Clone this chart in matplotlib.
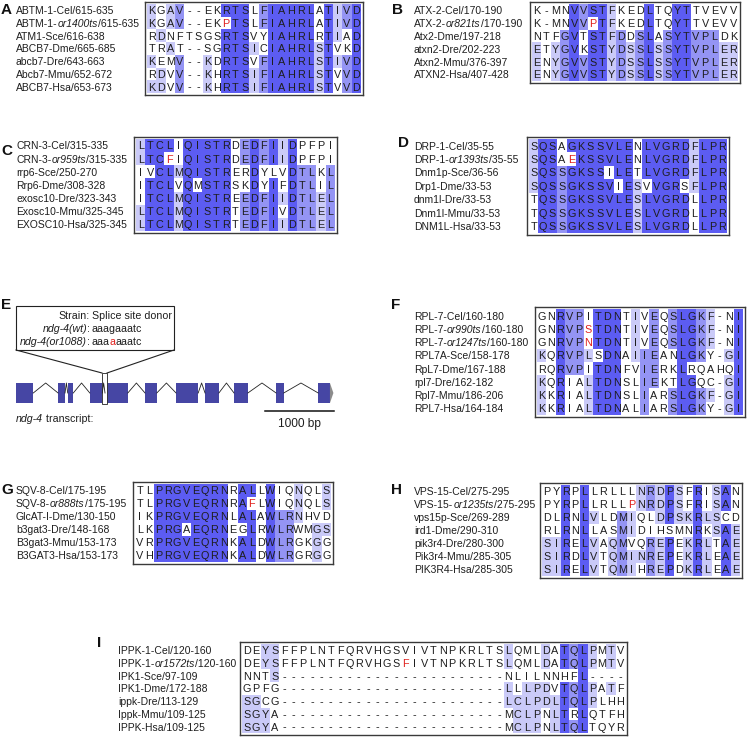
import numpy as np
import matplotlib.pyplot as plt
from matplotlib import transforms
from matplotlib.colors import to_rgb
from matplotlib.patches import Rectangle, Polygon

plt.rcParams['font.family'] = ['Liberation Sans', 'DejaVu Sans']

W, H = 748, 738
fig = plt.figure(figsize=(W / 100, H / 100), dpi=100)

# ---------------- alignments (allele names between * are italic) ----------------
A_names = ["ABTM-1-Cel/615-635", "ABTM-1-*or1400ts*/615-635", "ATM1-Sce/616-638",
           "ABCB7-Dme/665-685", "abcb7-Dre/643-663", "Abcb7-Mmu/652-672", "ABCB7-Hsa/653-673"]
A_seqs = ["KGAV--EKRTSLFIAHRLATIVD", "KGAV--EKPTSLFIAHRLATIVD", "RDNFTSGSRTSVYIAHRLRTIAD",
          "TRAT--SGRTSICIAHRLSTVKD", "KEMV--KDRTSVFIAHRLSTIVD", "RDVV--KHRTSIFIAHRLSTVVD",
          "KDVV--KHRTSIFIAHRLSTVVD"]

B_names = ["ATX-2-Cel/170-190", "ATX-2-*or821ts*/170-190", "Atx2-Dme/197-218",
           "atxn2-Dre/202-223", "Atxn2-Mmu/376-397", "ATXN2-Hsa/407-428"]
B_seqs = ["K-MNVVSTFKEDLTQYTTVEVV", "K-MNVVPTFKEDLTQYTTVEVV", "NTFGVTSTFDDSLASYTVPLDK",
          "ETYGVKSTYDSSLSSYTVPLER", "ENYGVVSTYDSSLSSYTVPLER", "ENYGVVSTYDSSLSSYTVPLER"]

C_names = ["CRN-3-Cel/315-335", "CRN-3-*or959ts*/315-335", "rrp6-Sce/250-270",
           "Rrp6-Dme/308-328", "exosc10-Dre/323-343", "Exosc10-Mmu/325-345", "EXOSC10-Hsa/325-345"]
C_seqs = ["LTCLIQISTRDEDFIIDPFPI", "LTCFIQISTRDEDFIIDPFPI", "IVCLMQISTRERDYLVDTLKL",
          "ITCLVQMSTRSKDYIFDTLIL", "ITCLMQISTREEDFIIDTLEL", "LTCLMQISTRTEDFIVDTLEL",
          "LTCLMQISTRTEDFIIDTLEL"]

D_names = ["DRP-1-Cel/35-55", "DRP-1-*or1393ts*/35-55", "Dnm1p-Sce/36-56", "Drp1-Dme/33-53",
           "dnm1l-Dre/33-53", "Dnm1l-Mmu/33-53", "DNM1L-Hsa/33-53"]
D_seqs = ["SQSAGKSSVLENLVGRDFLPR", "SQSAEKSSVLENLVGRDFLPR", "SQSSGKSSILETLVGRDFLPR",
          "SQSSGKSSVIESVVGRSFLPR", "TQSSGKSSVLESLVGRDLLPR", "TQSSGKSSVLESLVGRDLLPR",
          "TQSSGKSSVLESLVGRDLLPR"]

F_names = ["RPL-7-Cel/160-180", "RPL-7-*or990ts*/160-180", "RPL-7-*or1247ts*/160-180",
           "RPL7A-Sce/158-178", "RpL7-Dme/167-188", "rpl7-Dre/162-182", "Rpl7-Mmu/186-206",
           "RPL7-Hsa/164-184"]
F_seqs = ["GNRVPITDNTIVEQSLGKF-NI", "GNRVPSTDNTIVEQSLGKF-NI", "GNRVPNTDNTIVEQSLGKF-NI",
          "KQRVPLSDNAIIEANLGKY-GI", "RQRVPITDNFVIERKLRQAHQI", "KQRIALTDNSLIEKTLGQC-GI",
          "KKRIALTDNSLIARSLGKF-GI", "KKRIALTDNALIARSLGKY-GI"]

G_names = ["SQV-8-Cel/175-195", "SQV-8-*or888ts*/175-195", "GlcAT-I-Dme/130-150",
           "b3gat3-Dre/148-168", "B3gat3-Mmu/153-173", "B3GAT3-Hsa/153-173"]
G_seqs = ["TLPRGVEQRNRALLWIQNQLS", "TLPRGVEQRNRAFLWIQNQLS", "IKPRGVEQRNLALAWLRNHVD",
          "LKPRGAEQRNEGLRWLRWMGS", "VRPRGVEQRNKALDWLRGKGG", "VHPRGVEQRNKALDWLRGRGG"]

H_names = ["VPS-15-Cel/275-295", "VPS-15-*or1235ts*/275-295", "vps15p-Sce/269-289",
           "ird1-Dme/290-310", "pik3r4-Dre/280-300", "Pik3r4-Mmu/285-305", "PIK3R4-Hsa/285-305"]
H_seqs = ["PYRPLLRLLLNRDPSFRISAN", "PYRPLLRLLPNRDPSFRISAN", "DLRNLVLDMIQLDPSKRLSCD",
          "RLRNLLASMIDIHSMNRKSAE", "SIRELVAQMVQREPEKRLTAE", "SIRDLVTQMINREPEKRLEAE",
          "SIRELVTQMIHREPDKRLEAE"]

I_names = ["IPPK-1-Cel/120-160", "IPPK-1-*or1572ts*/120-160", "IPK1-Sce/97-109",
           "IPK1-Dme/172-188", "ippk-Dre/113-129", "Ippk-Mmu/109-125", "IPPK-Hsa/109-125"]
I_seqs = ["DEYSFFPLNTFQRVHGSVIVTNPKRLTSLQMLDATQLPMTV",
          "DEYSFFPLNTFQRVHGSFIVTNPKRLTSLQMLDATQLPMTV",
          "NNTS------------------------NLILNNHFL----",
          "GPFG------------------------LLLPDVTQLPATF",
          "SGCG------------------------LCLPDLTQLPLHH",
          "SGYA------------------------MCLPNLTRLQTFH",
          "SGYA------------------------MCLPNLTQLTQYR"]

# ---------------- E: ndg-4 gene model (bp) ----------------
exons_bp = [(0, 250), (610, 710), (750, 830), (1070, 1250), (1290, 1620), (1870, 2040),
            (2320, 2640), (2740, 2940), (3160, 3360), (3770, 3880), (4380, 4550)]
utr_end_bp = 4600
site_bp = (1245, 1315)
scale_bp = (3610, 4610)

# Jalview percentage identity shades
SHADES = [(80, to_rgb('#5c5cf2')), (60, to_rgb('#9494f4')), (40, to_rgb('#cacaf8'))]
TXT = '#1e1e1e'
RED = '#e0201c'
PAD = 2.0
NAME_FS = 7.45
RES_FS = 7.8


def pid_colours(seqs):
    nrow, ncol = len(seqs), len(seqs[0])
    img = np.ones((nrow, ncol, 3))
    for j in range(ncol):
        col = [s[j] for s in seqs if s[j] != '-']
        if not col:
            continue
        letters, counts = np.unique(col, return_counts=True)
        top = counts.max()
        pid = 100.0 * top / nrow
        cons = set(letters[counts == top])
        for lim, c in SHADES:
            if pid > lim:
                for i in range(nrow):
                    if seqs[i][j] in cons:
                        img[i, j] = c
                break
    return img


def chain(ax, x, y, segs, transform, size, ha='left'):
    order = segs if ha == 'left' else segs[::-1]
    prev = None
    for txt, ital, colr in order:
        if not txt:
            continue
        kw = dict(fontsize=size, color=colr, fontstyle='italic' if ital else 'normal')
        if prev is None:
            prev = ax.text(x, y, txt, transform=transform, ha=ha, va='baseline', **kw)
        else:
            prev = ax.annotate(txt, xy=(1 if ha == 'left' else 0, 0), xycoords=prev,
                               ha=ha, va='bottom', **kw)
    return prev


def name_segs(name):
    parts = name.split('*')
    return [(p, k % 2 == 1, TXT) for k, p in enumerate(parts)]


# overlay axes in pixel units for panel letters and the callout
ov = fig.add_axes([0, 0, 1, 1])
ov.set_xlim(0, W)
ov.set_ylim(H, 0)
ov.axis('off')


def draw_panel(label, names, seqs, box, name_x, label_xy):
    x0, y0, x1, y1 = box
    ax = fig.add_axes([x0 / W, 1 - y1 / H, (x1 - x0) / W, (y1 - y0) / H])
    nrow, ncol = len(seqs), len(seqs[0])
    cw = (x1 - x0 - 2 * PAD) / ncol
    ch = (y1 - y0 - 2 * PAD) / nrow
    ax.imshow(pid_colours(seqs), extent=(0, ncol, nrow, 0), interpolation='nearest', aspect='auto')
    ax.set_xlim(-PAD / cw, ncol + PAD / cw)
    ax.set_ylim(nrow + PAD / ch, -PAD / ch)
    ax.set_xticks([])
    ax.set_yticks([])
    for sp in ax.spines.values():
        sp.set_color('#3a3a3a')
        sp.set_linewidth(1.0)
    off = 3.9 / ch
    for i, s in enumerate(seqs):
        mutant = '*' in names[i]
        for j, r in enumerate(s):
            c = RED if (mutant and r != seqs[0][j]) else TXT
            ax.text(j + 0.5, i + 0.5 + off, r, ha='center', va='baseline',
                    fontsize=RES_FS, color=c)
    blend = transforms.blended_transform_factory(ax.transAxes, ax.transData)
    xf = (name_x - x0) / (x1 - x0)
    for i, nm in enumerate(names):
        chain(ax, xf, i + 0.5 + off, name_segs(nm), blend, NAME_FS)
    ov.text(label_xy[0], label_xy[1], label, fontsize=11, fontweight='bold',
            ha='left', va='center', color='#111111')


draw_panel('A', A_names, A_seqs, (145, 2, 363, 95), 16, (1, 10))
draw_panel('B', B_names, B_seqs, (530, 2, 740, 83), 414, (392, 10))
draw_panel('C', C_names, C_seqs, (134, 137, 337, 233), 16, (1, 151))
draw_panel('D', D_names, D_seqs, (527, 137, 729, 235), 414, (398, 143))
draw_panel('F', F_names, F_seqs, (535, 307, 745, 417), 414, (391, 305))
draw_panel('G', G_names, G_seqs, (133, 482, 333, 564), 16, (1, 490))
draw_panel('H', H_names, H_seqs, (540, 483, 742, 578), 414, (391, 490))
draw_panel('I', I_names, I_seqs, (240, 642, 627, 735), 118, (97, 643))

# ---------------- panel E ----------------
ov.text(1, 305, 'E', fontsize=11, fontweight='bold', ha='left', va='center', color='#111111')
ov.add_patch(Rectangle((16, 306), 158, 44, facecolor='white', edgecolor='#222222', lw=0.8))
ov.plot([16, 102], [350, 373], color='#222222', lw=0.8)
ov.plot([174, 107], [350, 373], color='#222222', lw=0.8)
E_FS = 7.7
rows_e = [
    (319, [('Strain:', False, TXT)], [('Splice site donor', False, TXT)]),
    (332, [('ndg-4(wt)', True, TXT), (':', False, TXT)], [('aaagaaatc', False, TXT)]),
    (345, [('ndg-4(or1088)', True, TXT), (':', False, TXT)],
     [('aaa', False, TXT), ('a', False, RED), ('aaatc', False, TXT)]),
]
for y, left, right in rows_e:
    chain(ov, 90, y, left, ov.transData, E_FS, ha='right')
    chain(ov, 92, y, right, ov.transData, E_FS, ha='left')

px_per_bp = 69 / 1000.0
gx = fig.add_axes([16 / W, 1 - 432 / H, 320 / W, 70 / H])
gx.set_xlim(0, 320 / px_per_bp)
gx.set_ylim((403 - 432) / 20, (403 - 362) / 20)
gx.axis('off')
EXON = '#4646a4'
for s, e in exons_bp:
    gx.add_patch(Rectangle((s, 0), e - s, 1, facecolor=EXON, edgecolor='none', zorder=2))
last = exons_bp[-1][1]
gx.add_patch(Polygon([(last, 0), (last, 1), (utr_end_bp, 0.5)], closed=True,
                     facecolor='#8c8c8c', edgecolor='none', zorder=2))
gx.add_patch(Rectangle((site_bp[0], -0.03), site_bp[1] - site_bp[0], 1.53,
                       facecolor='white', edgecolor='#222222', lw=0.6, zorder=3))
for (s1, e1), (s2, e2) in zip(exons_bp[:-1], exons_bp[1:]):
    gx.plot([e1, (e1 + s2) / 2, s2], [0.5, 1.0, 0.5], color='#222222', lw=0.6, zorder=4)
gx.plot(scale_bp, [-0.4, -0.4], color='#111111', lw=1.1)
gx.text(np.mean(scale_bp), -1.05, '1000 bp', ha='center', va='center', fontsize=8.6, color=TXT)
chain(gx, 0, -0.95, [('ndg-4', True, TXT), (' transcript:', False, TXT)], gx.transData, E_FS)

fig.savefig('out.png', dpi=100)
